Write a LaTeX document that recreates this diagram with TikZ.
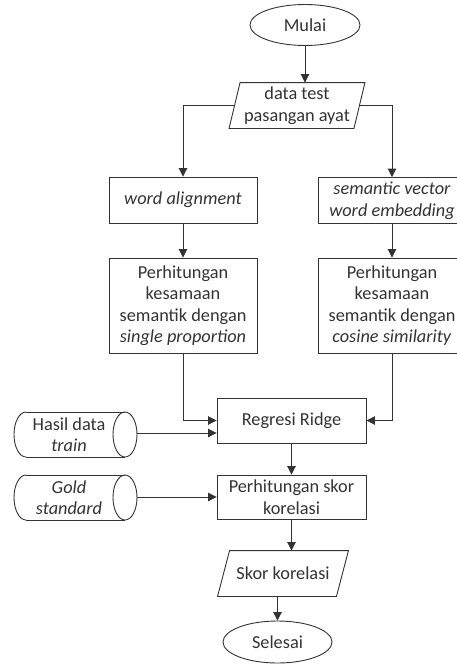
\documentclass[tikz,border=0pt]{standalone}
\usepackage{fontspec}
\setmainfont{Carlito}
\usetikzlibrary{arrows.meta,shapes.geometric,calc}
\begin{document}
\begin{tikzpicture}[x=1pt,y=-1pt,
  color=black!80, line width=0.9pt,
  every node/.style={font=\fontsize{18.3}{21.5}\selectfont, align=center},
  procbox/.style={draw, rectangle, minimum width=148pt, minimum height=46pt, inner sep=0pt},
  term/.style={draw, ellipse, minimum width=110pt, minimum height=41pt, inner sep=0pt},
  iobox/.style={rectangle, minimum width=124pt, minimum height=45pt, inner sep=0pt},
  arr/.style={-{Triangle[width=8.5pt,length=8.5pt]}}
]
\clip (0,0) rectangle (457,664);

% terminals
\node[term] (mulai) at (305,25) {Mulai};
\node[term, minimum width=109pt, minimum height=42pt] (sel) at (277.5,642) {Selesai};

% input parallelogram
\node[iobox] (dt) at (297,105.5) {data test\\pasangan ayat};
\draw ($(dt.south west)+(-5.5,0)$) -- ($(dt.north west)+(5.5,0)$) -- ($(dt.north east)+(5.5,0)$) -- ($(dt.south east)+(-5.5,0)$) -- cycle;

% process boxes
\node[procbox] (wa) at (183,200) {\textit{word alignment}};
\node[procbox] (sv) at (392,200.5) {\textit{semantic vector}\\\textit{word embedding}};
\node[procbox, minimum height=95pt] (p1) at (183,305.5) {Perhitungan\\kesamaan\\semantik dengan\\\textit{single proportion}};
\node[procbox, minimum height=95pt] (p2) at (392,305.5) {Perhitungan\\kesamaan\\semantik dengan\\\textit{cosine similarity}};
\node[procbox, minimum width=149pt, minimum height=45pt] (rr) at (291.5,420.5) {Regresi Ridge};
\node[procbox, minimum width=149pt, minimum height=44pt] (ps) at (291.5,497) {Perhitungan skor\\korelasi};

% output parallelogram
\node[iobox, minimum width=118pt] (sk) at (283,573.5) {Skor korelasi};
\draw ($(sk.south west)+(-6,0)$) -- ($(sk.north west)+(6,0)$) -- ($(sk.north east)+(6,0)$) -- ($(sk.south east)+(-6,0)$) -- cycle;

% stored data cylinders
\draw (26,412) -- (125,412);
\draw (26,457) -- (125,457);
\draw (125,434.5) ellipse [x radius=12, y radius=22.5];
\draw (26,412) arc[start angle=270, end angle=90, x radius=12, y radius=22.5];
\node (hd) at (69,434.5) {Hasil data\\\textit{train}};
\coordinate (hdE) at (137,433);

\draw (26,475) -- (125,475);
\draw (26,520) -- (125,520);
\draw (125,497.5) ellipse [x radius=12, y radius=22.5];
\draw (26,475) arc[start angle=270, end angle=90, x radius=12, y radius=22.5];
\node (gs) at (69,497.5) {\textit{Gold}\\\textit{standard}};
\coordinate (gsE) at (137,497);

% connectors
\draw[arr] (mulai.south) -- (mulai.south |- dt.north);
\draw[arr] (dt.west) -| (wa.north);
\draw[arr] (dt.east) -| (sv.north);
\draw[arr] (wa) -- (p1);
\draw[arr] (sv) -- (p2);
\draw[arr] (p1.south) |- (rr.west);
\draw[arr] (p2.south) |- (rr.east);
\draw[arr] (hdE) -- (hdE -| rr.west);
\draw[arr] (gsE) -- (gsE -| ps.west);
\draw[arr] (rr) -- (ps);
\draw[arr] (ps.south) -- (ps.south |- sk.north);
\draw[arr] (sel.north |- sk.south) -- (sel.north);
\end{tikzpicture}
\end{document}
